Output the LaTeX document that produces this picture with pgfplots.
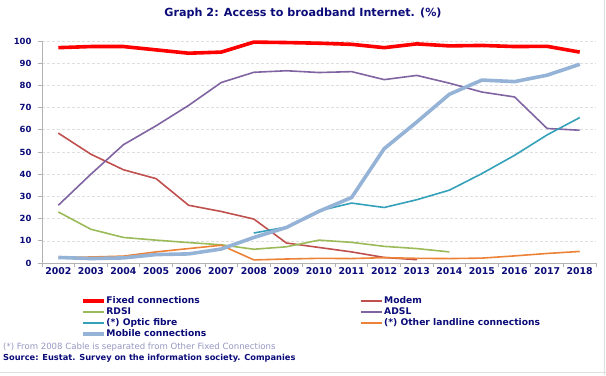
\documentclass[border=0pt]{standalone}
\usepackage{pgfplots}
\pgfplotsset{compat=1.18}
\usepackage{fontspec}
\setmainfont{DejaVu Sans}
\definecolor{navyt}{RGB}{10,10,120}
\definecolor{fixedc}{RGB}{255,0,0}
\definecolor{modemc}{RGB}{192,80,77}
\definecolor{rdsic}{RGB}{155,187,89}
\definecolor{adslc}{RGB}{128,100,162}
\definecolor{fibrec}{RGB}{52,160,185}
\definecolor{otherc}{RGB}{235,130,55}
\definecolor{mobilec}{RGB}{149,179,215}
\definecolor{notec}{RGB}{150,150,195}
\begin{document}
\begin{tikzpicture}[x=1bp,y=1bp]
\path[use as bounding box] (0,0) rectangle (606,375);
\draw[gray!25,line width=1bp] (604,0) -- (604,375);
\draw[gray!25,line width=1bp] (0,3) -- (606,3);
\node[font=\bfseries\fontsize{11.2}{13}\selectfont,text=navyt] at (303,361.5) {Graph 2: Access to broadband Internet. (\%)};
\begin{axis}[
  at={(42bp,112bp)}, anchor=south west,
  scale only axis, width=554bp, height=222bp,
  xmin=2001.5, xmax=2018.5, ymin=0, ymax=100,
  axis x line*=bottom, axis y line*=left,
  axis line style={gray!60, line width=0.8bp},
  xtick={2002,...,2018},
  minor xtick={2001.5,2002.5,...,2018.5},
  major tick length=0pt,
  minor tick length=4bp,
  xtick align=outside,
  every minor tick/.style={gray!60, line width=0.8bp},
  ytick={0,10,...,100},
  extra y ticks={0,10,...,100}, extra y tick labels={},
  extra y tick style={major tick length=4bp, tick align=outside, tick style={gray!60,line width=0.8bp}, grid=none},
  ymajorgrids,
  grid style={densely dashed, gray!25, line width=0.6bp},
  /pgf/number format/assume math mode=true,
  /pgf/number format/1000 sep={},
  ticklabel style={font=\bfseries\fontsize{8.5}{10}\selectfont, text=navyt},
  xticklabel style={yshift=-1bp, font=\bfseries\fontsize{9.4}{10}\selectfont},
  yticklabel style={xshift=-7bp},
  legend columns=2,
  legend style={at={(39bp,-33bp)}, anchor=north west, draw=none, fill=none,
    font=\bfseries\fontsize{9.2}{10}\selectfont, text=navyt,
    row sep=1.5bp, inner sep=0pt,
    nodes={inner sep=0.6bp, text height=6.5bp, text depth=1.8bp}},
  legend cell align=left,
  legend image code/.code={\draw[#1] (0bp,0bp) -- (21bp,0bp);},
  clip=false,
]
\addplot[fixedc, line width=3.6bp] coordinates {(2002,97)(2003,97.5)(2004,97.5)(2005,96)(2006,94.5)(2007,95)(2008,99.5)(2009,99.3)(2010,99)(2011,98.5)(2012,97)(2013,98.7)(2014,97.8)(2015,98)(2016,97.5)(2017,97.6)(2018,95)};
\addlegendentry{\makebox[253bp][l]{Fixed connections}}
\addplot[modemc, line width=1.6bp, legend image code/.code={\draw[modemc, line width=2.6bp] (0bp,0bp) -- (21bp,0bp);}] coordinates {(2002,58.5)(2003,49)(2004,42)(2005,38)(2006,26)(2007,23.2)(2008,19.8)(2009,9)(2010,7)(2011,5)(2012,2.5)(2013,1.5)};
\addlegendentry{Modem}
\addplot[rdsic, line width=1.6bp, legend image code/.code={\draw[rdsic, line width=2.6bp] (0bp,0bp) -- (21bp,0bp);}] coordinates {(2002,23)(2003,15.2)(2004,11.5)(2005,10.3)(2006,9.2)(2007,8.2)(2008,6.2)(2009,7.3)(2010,10.3)(2011,9.3)(2012,7.5)(2013,6.5)(2014,5)};
\addlegendentry{\makebox[253bp][l]{RDSI}}
\addplot[adslc, line width=1.6bp, legend image code/.code={\draw[adslc, line width=2.6bp] (0bp,0bp) -- (21bp,0bp);}] coordinates {(2002,26)(2003,40)(2004,53.3)(2005,61.8)(2006,71)(2007,81.3)(2008,85.9)(2009,86.6)(2010,85.8)(2011,86.2)(2012,82.6)(2013,84.5)(2014,81)(2015,77)(2016,74.8)(2017,60.6)(2018,59.8)};
\addlegendentry{ADSL}
\addplot[fibrec, line width=1.6bp, legend image code/.code={\draw[fibrec, line width=2.6bp] (0bp,0bp) -- (21bp,0bp);}] coordinates {(2008,13.5)(2009,16.2)(2010,23.5)(2011,27)(2012,25)(2013,28.5)(2014,32.8)(2015,40.3)(2016,48.5)(2017,57.7)(2018,65.5)};
\addlegendentry{\makebox[253bp][l]{(*) Optic fibre}}
\addplot[otherc, line width=1.6bp, legend image code/.code={\draw[otherc, line width=2.6bp] (0bp,0bp) -- (21bp,0bp);}] coordinates {(2002,2.5)(2003,2.7)(2004,3.1)(2005,5)(2006,6.5)(2007,8)(2008,1.4)(2009,1.8)(2010,2.1)(2011,2)(2012,2.4)(2013,2.1)(2014,2)(2015,2.2)(2016,3.2)(2017,4.3)(2018,5.2)};
\addlegendentry{(*) Other landline connections}
\addplot[mobilec, line width=3.6bp] coordinates {(2002,2.5)(2003,2)(2004,2.3)(2005,3.8)(2006,4.1)(2007,6.3)(2008,11.5)(2009,16)(2010,23.3)(2011,29.5)(2012,51.5)(2013,63.5)(2014,76)(2015,82.4)(2016,81.7)(2017,84.6)(2018,89.5)};
\addlegendentry{Mobile connections}
\end{axis}
\node[anchor=west, inner sep=0pt, font=\fontsize{8.6}{10}\selectfont, text=notec] at (3,28.3) {(*) From 2008 Cable is separated from Other Fixed Connections};
\node[anchor=west, inner sep=0pt, font=\bfseries\fontsize{8.3}{10}\selectfont, text=navyt] at (3,17) {Source: Eustat. Survey on the information society. Companies};
\end{tikzpicture}
\end{document}
